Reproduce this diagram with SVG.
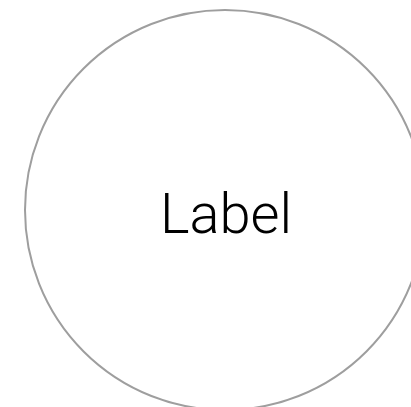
<svg xmlns="http://www.w3.org/2000/svg" width="411" height="407" viewBox="0 0 411 407">
<style>
.node-shape{fill:#ffffff;stroke:#9e9e9e;stroke-width:2}
.node-label{font-family:Roboto,"Liberation Sans",sans-serif;font-weight:300;font-size:56px;fill:#000000;text-anchor:middle}
</style>
<rect width="411" height="407" fill="#ffffff"/>
<g id="connectors"></g>
<g id="node-label">
<circle class="node-shape" cx="225" cy="210" r="200"/>
<text class="node-label" x="226" y="233">Label</text>
</g>
</svg>
